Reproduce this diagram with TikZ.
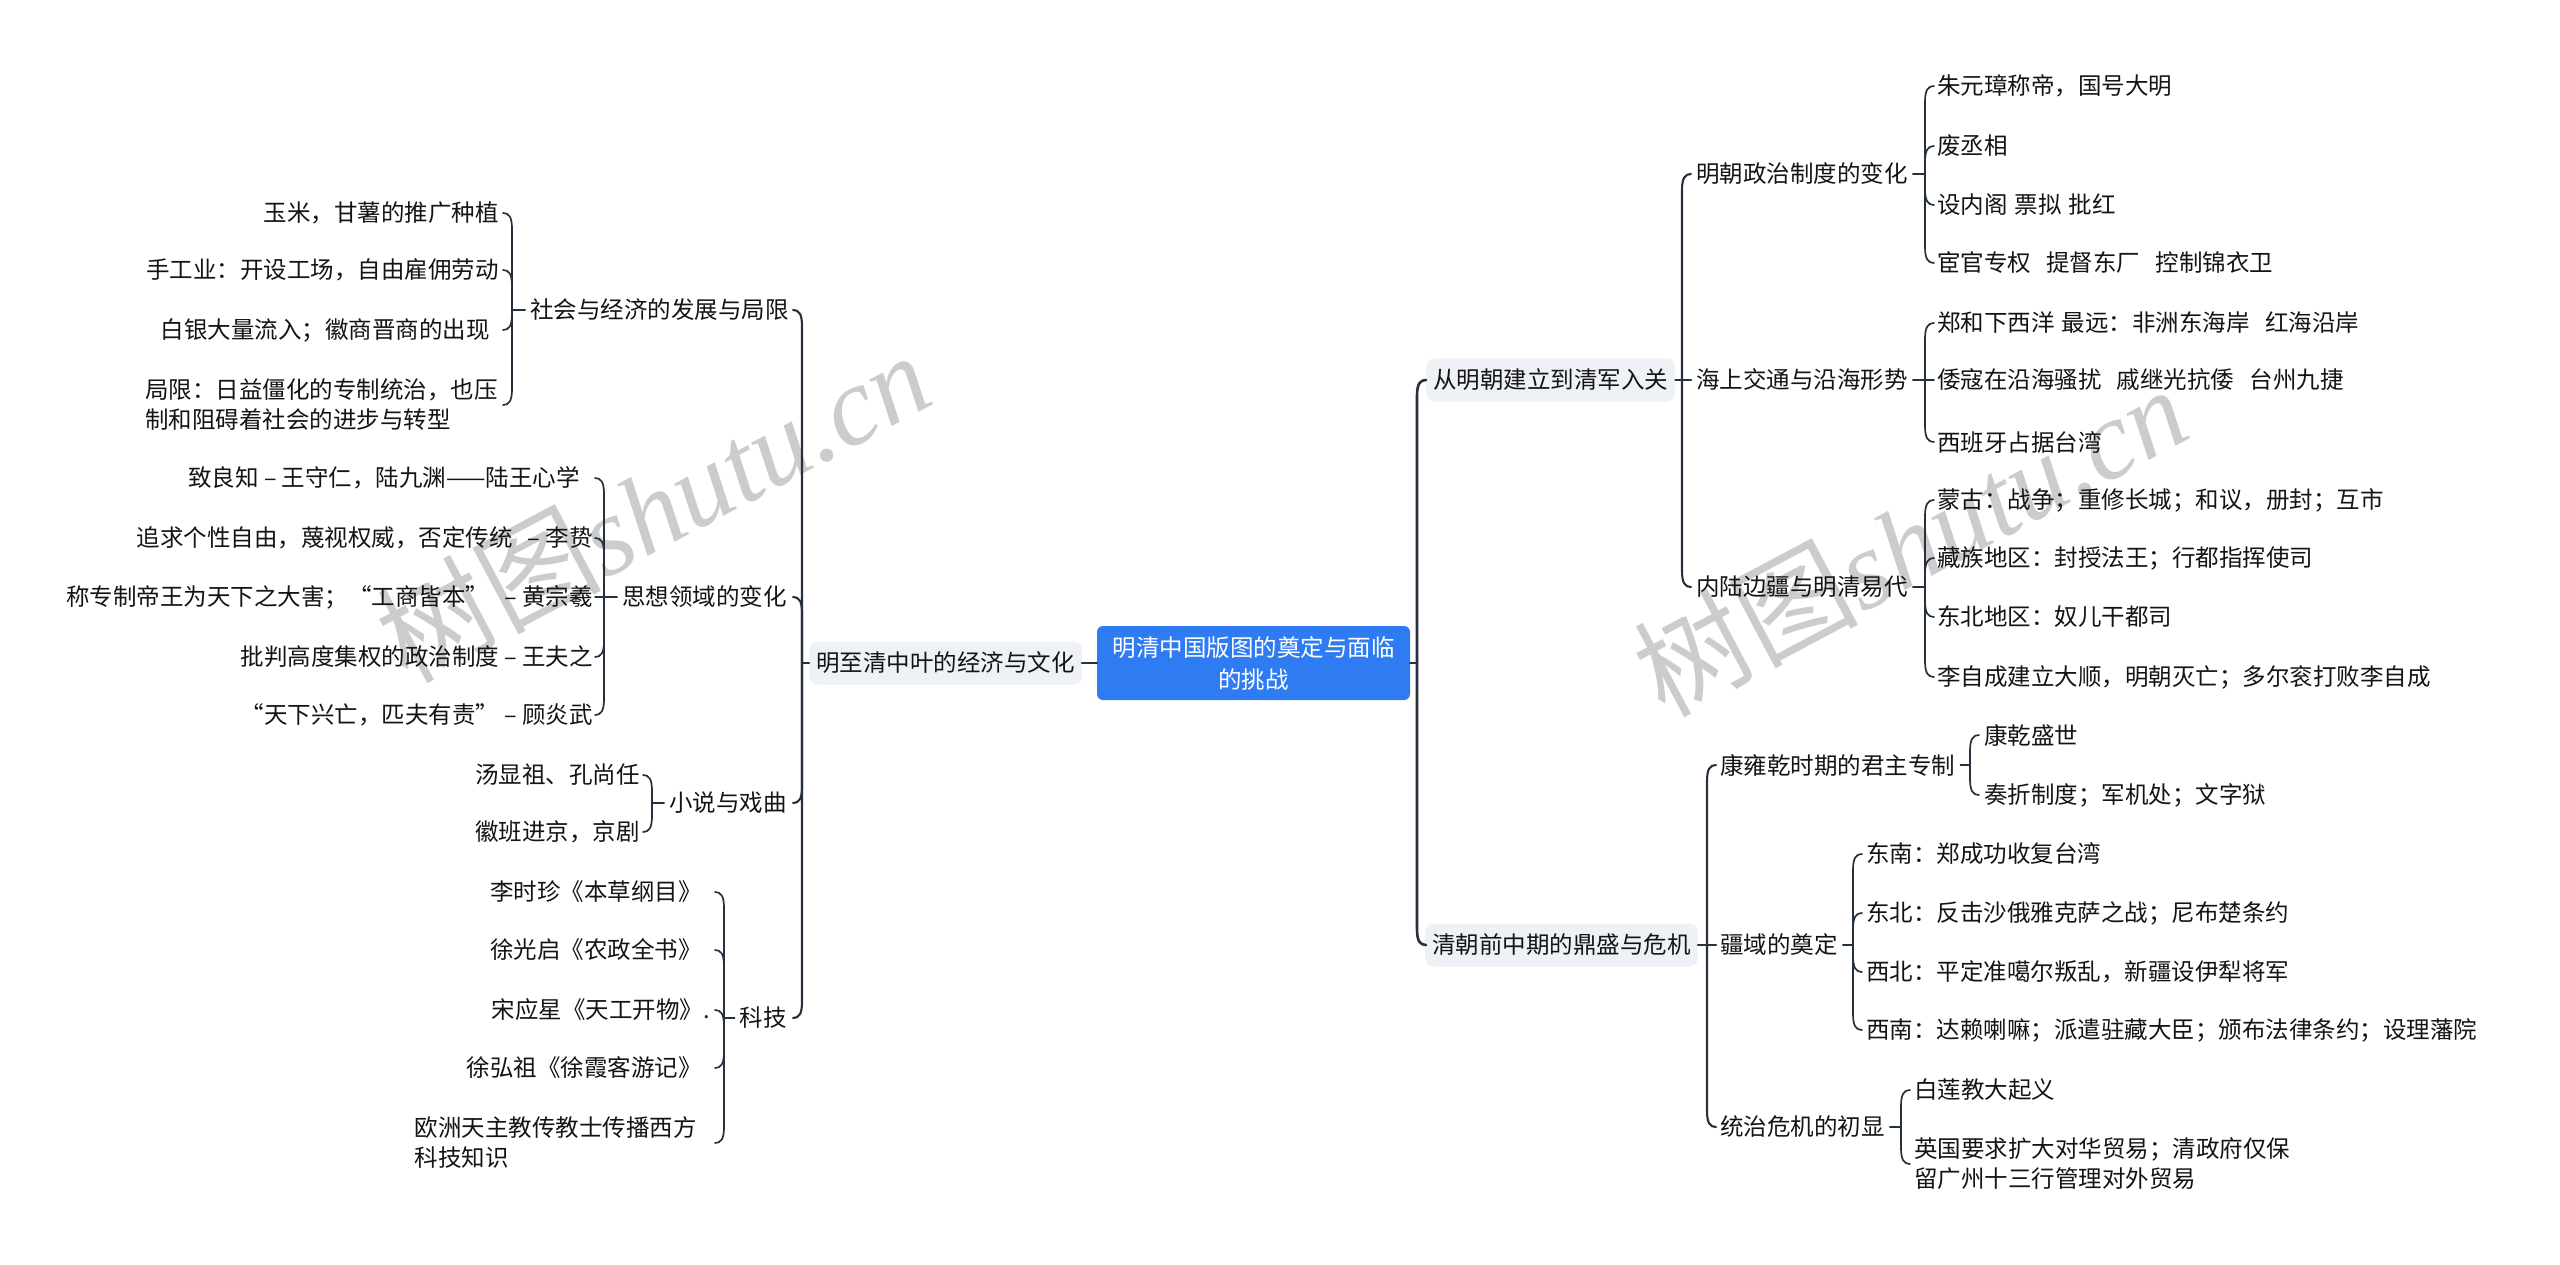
\documentclass[tikz,border=0pt]{standalone}
\usepackage{fontspec}
\setmainfont{Noto Sans CJK SC}
\newfontfamily\wmlat{Liberation Serif}
\usetikzlibrary{calc}
\definecolor{lc}{HTML}{27303D}
\definecolor{blu}{HTML}{2F7BF2}
\definecolor{gbx}{HTML}{EEF1F5}
\definecolor{txtc}{HTML}{141414}
\newcommand\myfs{\fontsize{23.5pt}{30pt}\selectfont}
\newcommand\rootfs{\fontsize{23.5pt}{32pt}\selectfont}
\newcommand\wmfs{\fontsize{112pt}{112pt}\selectfont}
\newcommand\sgap{\hspace{0.3em}}
\newcommand\dgap{\hspace{0.65em}}
\newcommand\conR[4][lw2]{%
  \draw[#1] (#2) -- ($(#2|-#3.west)+(0,#4*16)$)
    .. controls ($(#2|-#3.west)+(0,#4*4)$) and ($(#2|-#3.west)+(3,0)$)
    .. ($(#2|-#3.west)+(9,0)$);}
\newcommand\conL[4][lw2]{%
  \draw[#1] (#2) -- ($(#2|-#3.east)+(0,#4*16)$)
    .. controls ($(#2|-#3.east)+(0,#4*4)$) and ($(#2|-#3.east)+(-3,0)$)
    .. ($(#2|-#3.east)+(-9,0)$);}
\begin{document}
\begin{tikzpicture}[x=1pt,y=-1pt,
  tx/.style={font=\myfs, text=txtc, inner xsep=5pt, inner ysep=2pt, align=left},
  tR/.style={tx, anchor=west},
  tL/.style={tx, anchor=east},
  box/.style={tx, fill=gbx, rounded corners=8pt, minimum height=43pt, inner xsep=7pt},
  root/.style={font=\rootfs, text=white, fill=blu, rounded corners=6pt, minimum width=313pt, minimum height=74pt, inner sep=0pt, align=center},
  wm/.style={font=\wmfs, text=black!20, rotate=28, inner sep=0pt},
  lw0/.style={draw=lc, line width=2.6pt, line cap=round, line join=round},
  lw1/.style={draw=lc, line width=2.1pt, line cap=round, line join=round},
  lw2/.style={draw=lc, line width=1.7pt, line cap=round, line join=round}]
\fill[white] (0,0) rectangle (2560,1265);
\useasboundingbox (0,0) rectangle (2560,1265);

% watermarks
\node[wm] (wm1) at (653,506) {树图{\wmlat\itshape shutu.cn}};
\node[wm] (wm2) at (1910,540) {树图{\wmlat\itshape shutu.cn}};

% root
\node[root] (root) at (1253.5,663) {明清中国版图的奠定与面临\\的挑战};

% right level 1
\node[box, anchor=west] (r1) at (1426,380) {从明朝建立到清军入关};
\node[box, anchor=west] (r2) at (1425,945) {清朝前中期的鼎盛与危机};
% right level 2
\node[tR] (a1) at (1691,174) {明朝政治制度的变化};
\node[tR] (a2) at (1691,380) {海上交通与沿海形势};
\node[tR] (a3) at (1691,587) {内陆边疆与明清易代};
\node[tR] (c1) at (1715,765) {康雍乾时期的君主专制};
\node[tR] (c2) at (1715,945) {疆域的奠定};
\node[tR] (c3) at (1715,1127) {统治危机的初显};
% right level 3
\node[tR] (b11) at (1932,86) {朱元璋称帝，国号大明};
\node[tR] (b12) at (1932,146) {废丞相};
\node[tR] (b13) at (1932,205) {设内阁\sgap 票拟\sgap 批红};
\node[tR] (b14) at (1932,263) {宦官专权\dgap 提督东厂\dgap 控制锦衣卫};
\node[tR] (b21) at (1932,323) {郑和下西洋\sgap 最远：非洲东海岸\dgap 红海沿岸};
\node[tR] (b22) at (1932,380) {倭寇在沿海骚扰\dgap 戚继光抗倭\dgap 台州九捷};
\node[tR] (b23) at (1932,442) {西班牙占据台湾};
\node[tR] (b31) at (1932,500) {蒙古：战争；重修长城；和议，册封；互市};
\node[tR] (b32) at (1932,558) {藏族地区：封授法王；行都指挥使司};
\node[tR] (b33) at (1932,617) {东北地区：奴儿干都司};
\node[tR] (b34) at (1932,677) {李自成建立大顺，明朝灭亡；多尔衮打败李自成};
\node[tR] (d11) at (1979,735) {康乾盛世};
\node[tR] (d12) at (1979,795) {奏折制度；军机处；文字狱};
\node[tR] (d21) at (1861,854) {东南：郑成功收复台湾};
\node[tR] (d22) at (1861,913) {东北：反击沙俄雅克萨之战；尼布楚条约};
\node[tR] (d23) at (1861,972) {西北：平定准噶尔叛乱，新疆设伊犁将军};
\node[tR] (d24) at (1861,1030) {西南：达赖喇嘛；派遣驻藏大臣；颁布法律条约；设理藩院};
\node[tR] (d31) at (1909,1090) {白莲教大起义};
\node[tR] (d32) at (1909,1164) {英国要求扩大对华贸易；清政府仅保\\留广州十三行管理对外贸易};

% left level 1
\node[box, anchor=east] (L1) at (1082,663) {明至清中叶的经济与文化};
% left level 2
\node[tL] (e1) at (794,310) {社会与经济的发展与局限};
\node[tL] (e2) at (792,597) {思想领域的变化};
\node[tL] (e3) at (792,803) {小说与戏曲};
\node[tL] (e4) at (792,1018) {科技};
% left level 3
\node[tL] (f11) at (504,213) {玉米，甘薯的推广种植};
\node[tL] (f12) at (504,270) {手工业：开设工场，自由雇佣劳动};
\node[tL] (f13) at (495,330) {白银大量流入；徽商晋商的出现};
\node[tL] (f14) at (503,405) {局限：日益僵化的专制统治，也压\\制和阻碍着社会的进步与转型};
\node[tL] (f21) at (585,478) {致良知 – 王守仁，陆九渊——陆王心学};
\node[tL] (f22) at (598,538) {追求个性自由，蔑视权威，否定传统\dgap – 李贽};
\node[tL] (f23) at (598,597) {称专制帝王为天下之大害；“工商皆本”\dgap – 黄宗羲};
\node[tL] (f24) at (598,657) {批判高度集权的政治制度 – 王夫之};
\node[tL] (f25) at (598,715) {“天下兴亡，匹夫有责” – 顾炎武};
\node[tL] (f31) at (645,775) {汤显祖、孔尚任};
\node[tL] (f32) at (645,832) {徽班进京，京剧};
\node[tL] (f41) at (707,892) {李时珍《本草纲目》};
\node[tL] (f42) at (707,950) {徐光启《农政全书》};
\node[tL] (f43) at (715,1010) {宋应星《天工开物》.};
\node[tL] (f44) at (707,1068) {徐弘祖《徐霞客游记》};
\node[tL] (f45) at (702,1143) {欧洲天主教传教士传播西方\\科技知识};

% spines
\coordinate (m) at (1417,663);
\coordinate (sa) at (1682,380);
\coordinate (sb1) at (1925,174);
\coordinate (sb2) at (1925,380);
\coordinate (sb3) at (1925,587);
\coordinate (sc) at (1707,945);
\coordinate (sd1) at (1970,765);
\coordinate (sd2) at (1853,945);
\coordinate (sd3) at (1901,1127);
\coordinate (ls) at (802,663);
\coordinate (sf1) at (512,310);
\coordinate (sf2) at (604,597);
\coordinate (sf3) at (652,803);
\coordinate (sf4) at (724,1018);

% connectors root
\draw[lw0] (root.west) -- (L1.east);
\draw[lw0] (root.east) -- (m);
\conR[lw0]{m}{r1}{1}
\conR[lw0]{m}{r2}{-1}
% right
\draw[lw1] (r1.east) -- (sa);
\conR[lw1]{sa}{a1}{1}
\conR[lw1]{sa}{a2}{0}
\conR[lw1]{sa}{a3}{-1}
\draw[lw1] (r2.east) -- (sc);
\conR[lw1]{sc}{c1}{1}
\conR[lw1]{sc}{c2}{0}
\conR[lw1]{sc}{c3}{-1}
\draw[lw2] (a1.east) -- (sb1);
\conR{sb1}{b11}{1}
\conR{sb1}{b12}{1}
\conR{sb1}{b13}{-1}
\conR{sb1}{b14}{-1}
\draw[lw2] (a2.east) -- (sb2);
\conR{sb2}{b21}{1}
\conR{sb2}{b22}{0}
\conR{sb2}{b23}{-1}
\draw[lw2] (a3.east) -- (sb3);
\conR{sb3}{b31}{1}
\conR{sb3}{b32}{1}
\conR{sb3}{b33}{-1}
\conR{sb3}{b34}{-1}
\draw[lw2] (c1.east) -- (sd1);
\conR{sd1}{d11}{1}
\conR{sd1}{d12}{-1}
\draw[lw2] (c2.east) -- (sd2);
\conR{sd2}{d21}{1}
\conR{sd2}{d22}{1}
\conR{sd2}{d23}{-1}
\conR{sd2}{d24}{-1}
\draw[lw2] (c3.east) -- (sd3);
\conR{sd3}{d31}{1}
\conR{sd3}{d32}{-1}
% left
\draw[lw1] (L1.west) -- (ls);
\conL[lw1]{ls}{e1}{1}
\conL[lw1]{ls}{e2}{1}
\conL[lw1]{ls}{e3}{-1}
\conL[lw1]{ls}{e4}{-1}
\draw[lw2] (e1.west) -- (sf1);
\conL{sf1}{f11}{1}
\conL{sf1}{f12}{1}
\conL{sf1}{f13}{-1}
\conL{sf1}{f14}{-1}
\draw[lw2] (e2.west) -- (sf2);
\conL{sf2}{f21}{1}
\conL{sf2}{f22}{1}
\conL{sf2}{f23}{0}
\conL{sf2}{f24}{-1}
\conL{sf2}{f25}{-1}
\draw[lw2] (e3.west) -- (sf3);
\conL{sf3}{f31}{1}
\conL{sf3}{f32}{-1}
\draw[lw2] (e4.west) -- (sf4);
\conL{sf4}{f41}{1}
\conL{sf4}{f42}{1}
\conL{sf4}{f43}{1}
\conL{sf4}{f44}{-1}
\conL{sf4}{f45}{-1}
\end{tikzpicture}
\end{document}
